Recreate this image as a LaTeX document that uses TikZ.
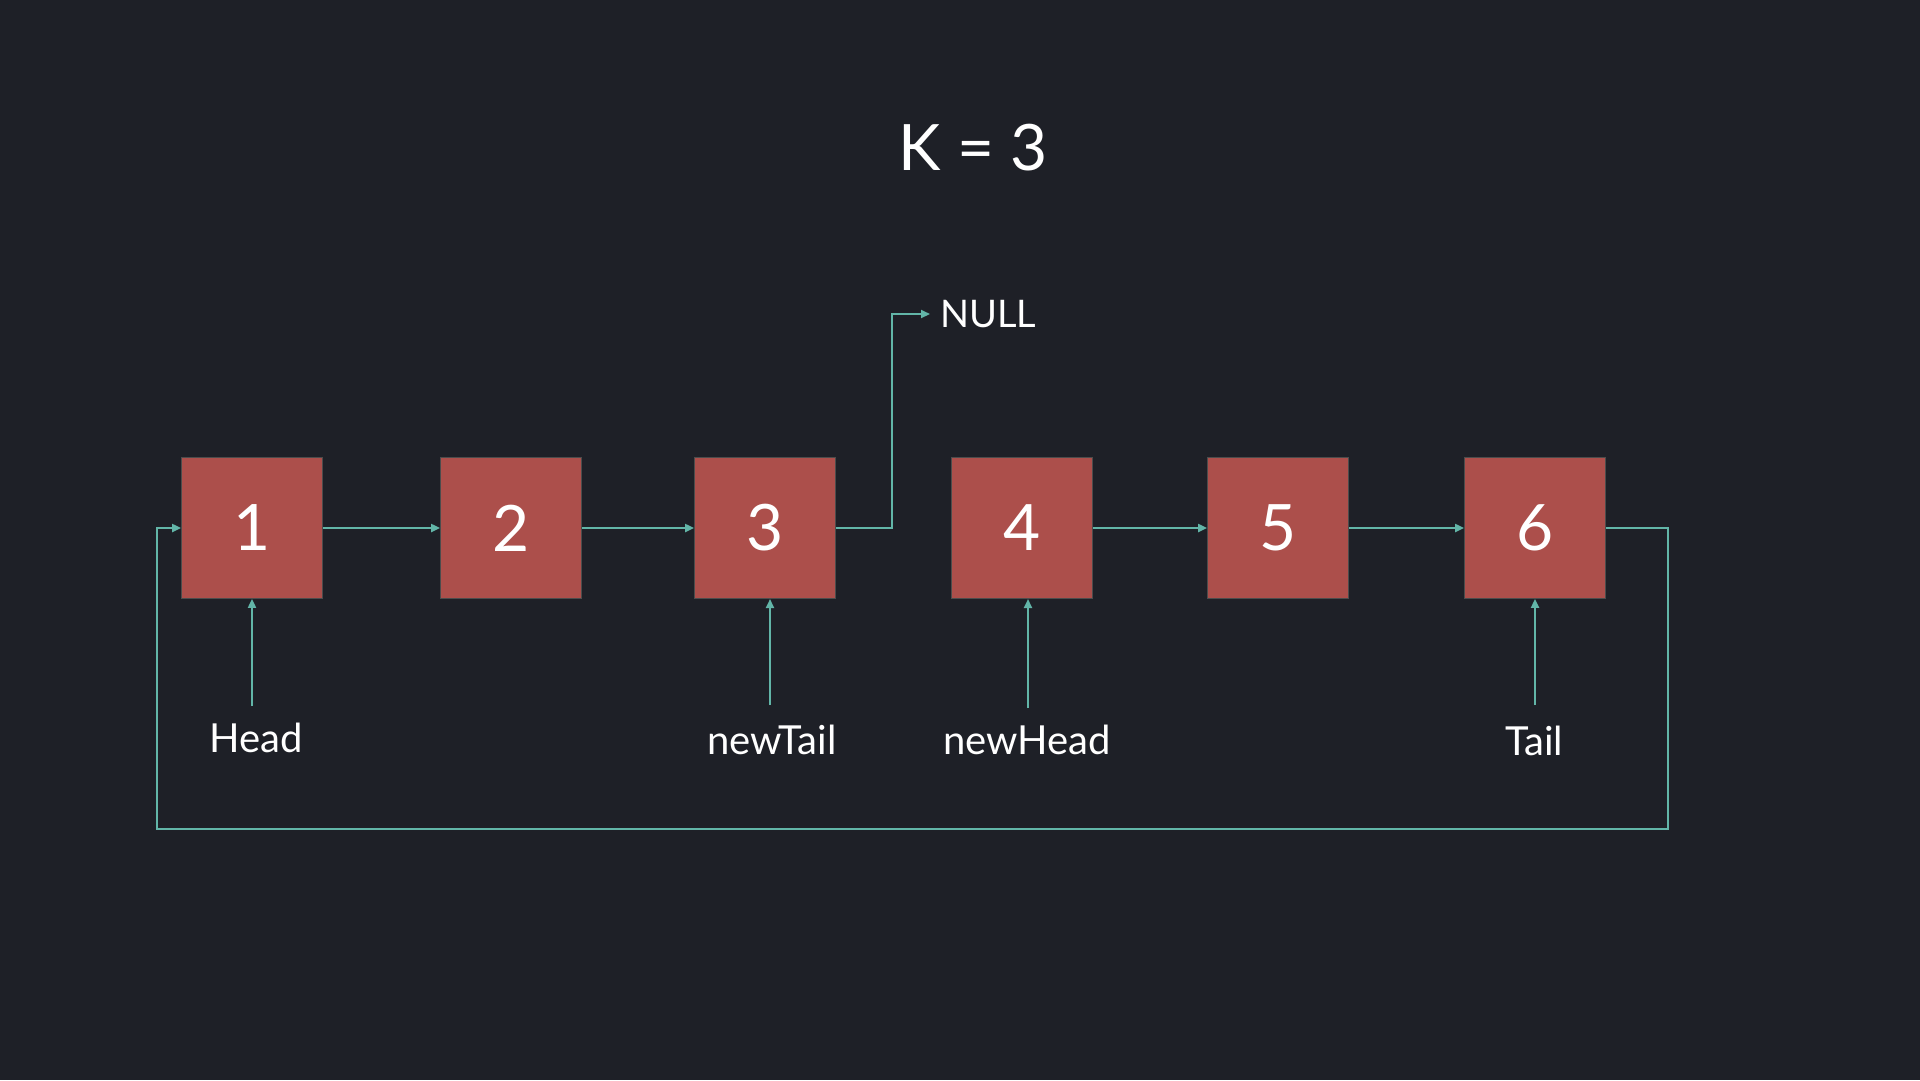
\documentclass[tikz,border=0pt]{standalone}
\usepackage{fontspec}
\setmainfont{Lato}
\usetikzlibrary{arrows.meta}
\definecolor{bg}{HTML}{1E2027}
\definecolor{boxred}{HTML}{AC4F4B}
\definecolor{link}{HTML}{62B5A8}
\begin{document}
\begin{tikzpicture}[x=1pt,y=-1pt,
  listnode/.style={draw=black!70,line width=0.8pt,fill=boxred,minimum width=141pt,minimum height=141pt,inner sep=0pt,text=white,font=\fontsize{64}{64}\selectfont},
  lbl/.style={text=white,inner sep=0pt,font=\fontsize{40}{40}\selectfont},
  conn/.style={draw=link,line width=2pt,-{Triangle[length=9pt,width=8pt]}}]
\fill[bg] (0,0) rectangle (1920,1080);
\useasboundingbox (0,0) rectangle (1920,1080);
\node[text=white,font=\fontsize{64}{64}\selectfont] (k) at (973,148) {K = 3};
\node[listnode] (n1) at (252,528) {1};
\node[listnode] (n2) at (511,528) {2};
\node[listnode] (n3) at (765,528) {3};
\node[listnode] (n4) at (1022,528) {4};
\node[listnode] (n5) at (1278,528) {5};
\node[listnode] (n6) at (1535,528) {6};
\node[text=white,inner sep=0pt,anchor=west,font=\fontsize{38}{38}\selectfont] (null) at (940,314) {NULL};
\node[lbl] (head) at (256,738) {Head};
\node[lbl] (newtail) at (772,740) {newTail};
\node[lbl] (newhead) at (1027,740) {newHead};
\node[lbl] (tail) at (1534,741) {Tail};
\coordinate (hs) at (252,706);
\coordinate (nts) at (770,705);
\coordinate (nhs) at (1028,708);
\coordinate (ts) at (1535,705);
\draw[conn] (n1.east) -- (n2.west);
\draw[conn] (n2.east) -- (n3.west);
\draw[conn] (n4.east) -- (n5.west);
\draw[conn] (n5.east) -- (n6.west);
\draw[conn] (n3.east) -- (892,528) -- (892,314) -- ([xshift=-10pt]null.west);
\draw[conn] (n6.east) -- (1668,528) -- (1668,829) -- (157,829) -- (157,528) -- (n1.west);
\draw[conn] (hs) -- (n1.south);
\draw[conn] (nts) -- (770,599);
\draw[conn] (nhs) -- (1028,599);
\draw[conn] (ts) -- (n6.south);
\end{tikzpicture}
\end{document}
